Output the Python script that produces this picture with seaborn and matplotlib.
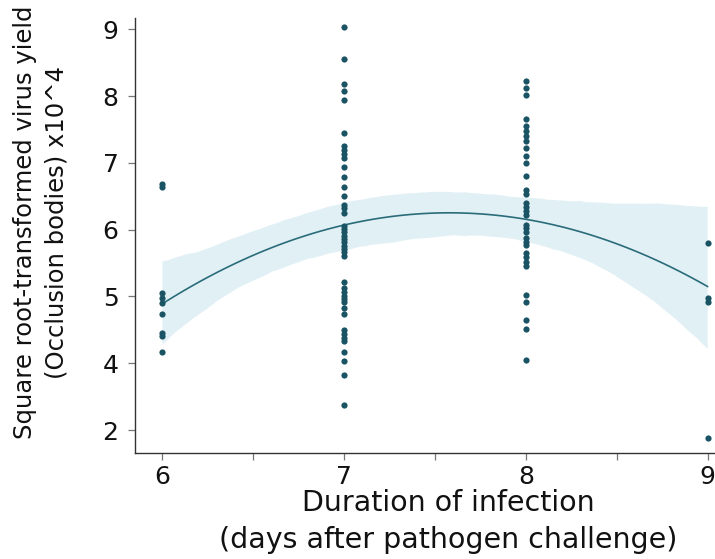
import numpy as np
import pandas as pd
import matplotlib
matplotlib.use("Agg")
import matplotlib.pyplot as plt
from matplotlib.collections import PolyCollection
import seaborn as sns

# Virus yield per larva, grouped by day of death after challenge
day6 = [6.68, 6.64, 5.05, 4.98, 4.90, 4.74, 4.46, 4.41, 4.17]
day7 = [9.03, 8.56, 8.18, 8.07, 7.94, 7.45, 7.25, 7.19, 7.13, 7.08, 6.94, 6.79,
        6.64, 6.51, 6.37, 6.32, 6.25, 6.06, 6.01, 5.96, 5.91, 5.86, 5.81, 5.76,
        5.71, 5.66, 5.60, 5.22, 5.13, 5.06, 5.01, 4.96, 4.91, 4.83, 4.74, 4.50,
        4.44, 4.38, 4.33, 4.17, 4.04, 3.82, 3.37]
day8 = [8.22, 8.12, 8.02, 7.65, 7.55, 7.47, 7.40, 7.32, 7.22, 7.10, 7.00,
        6.80, 6.60, 6.53, 6.40, 6.34, 6.28, 6.22, 6.07, 6.02, 5.97, 5.87, 5.82,
        5.77, 5.65, 5.59, 5.52, 5.46, 5.02, 4.92, 4.65, 4.52, 4.05]
day9 = [5.80, 4.98, 4.92, 2.88]

days = [6, 7, 8, 9]
y_tick_pos = [3, 4, 5, 6, 7, 8, 9]
y_tick_labels = ["2", "4", "5", "6", "7", "8", "9"]

df = pd.DataFrame({
    "day": np.concatenate([[d] * len(v) for d, v in zip(days, [day6, day7, day8, day9])]),
    "yield": np.concatenate([day6, day7, day8, day9]),
})

sns.set_style("white")
plt.rcParams["font.family"] = ["DejaVu Sans"]

fig = plt.figure(figsize=(7.15, 5.59), dpi=100)
ax = fig.add_axes([0.189, 0.19, 0.811, 0.778])

point_col = "#1a5464"
line_col = "#2a6c7a"
band_col = "#e1f0f5"

sns.regplot(data=df, x="day", y="yield", order=2, ci=95, n_boot=1000, seed=3,
            ax=ax, truncate=True,
            scatter_kws=dict(s=20, color=point_col, linewidths=0, alpha=1, zorder=3),
            line_kws=dict(color=line_col, lw=1.2))
for coll in ax.collections:
    if isinstance(coll, PolyCollection):
        coll.set_facecolor(band_col)
        coll.set_alpha(1)
        coll.set_edgecolor("none")
        coll.set_zorder(1)

ax.set_xlim(5.85, 9.04)
ax.set_ylim(2.66, 9.17)
ax.set_xticks([6, 6.5, 7, 7.5, 8, 8.5, 9])
ax.set_xticklabels(["6", "", "7", "", "8", "", "9"])
ax.set_yticks(y_tick_pos)
ax.set_yticklabels(y_tick_labels)

ax.tick_params(axis="both", which="major", length=5, width=0.9, color="#777777",
               labelsize=18, labelcolor="#111111", pad=7)
ax.tick_params(axis="x", bottom=True, direction="out", pad=4)
ax.tick_params(axis="y", left=True, direction="out")

for side in ["top", "right"]:
    ax.spines[side].set_visible(False)
for side in ["left", "bottom"]:
    ax.spines[side].set_color("#333333")
    ax.spines[side].set_linewidth(1.0)

ax.set_xlabel("Duration of infection\n(days after pathogen challenge)",
              fontsize=20.5, color="#111111", linespacing=1.4)
ax.set_ylabel("Square root-transformed virus yield\n(Occlusion bodies) x10^4",
              fontsize=17.5, color="#111111", linespacing=1.4)
ax.xaxis.set_label_coords(0.54, -0.083)
ax.yaxis.set_label_coords(-0.115, 0.53)

fig.savefig("out.png", dpi=100)
